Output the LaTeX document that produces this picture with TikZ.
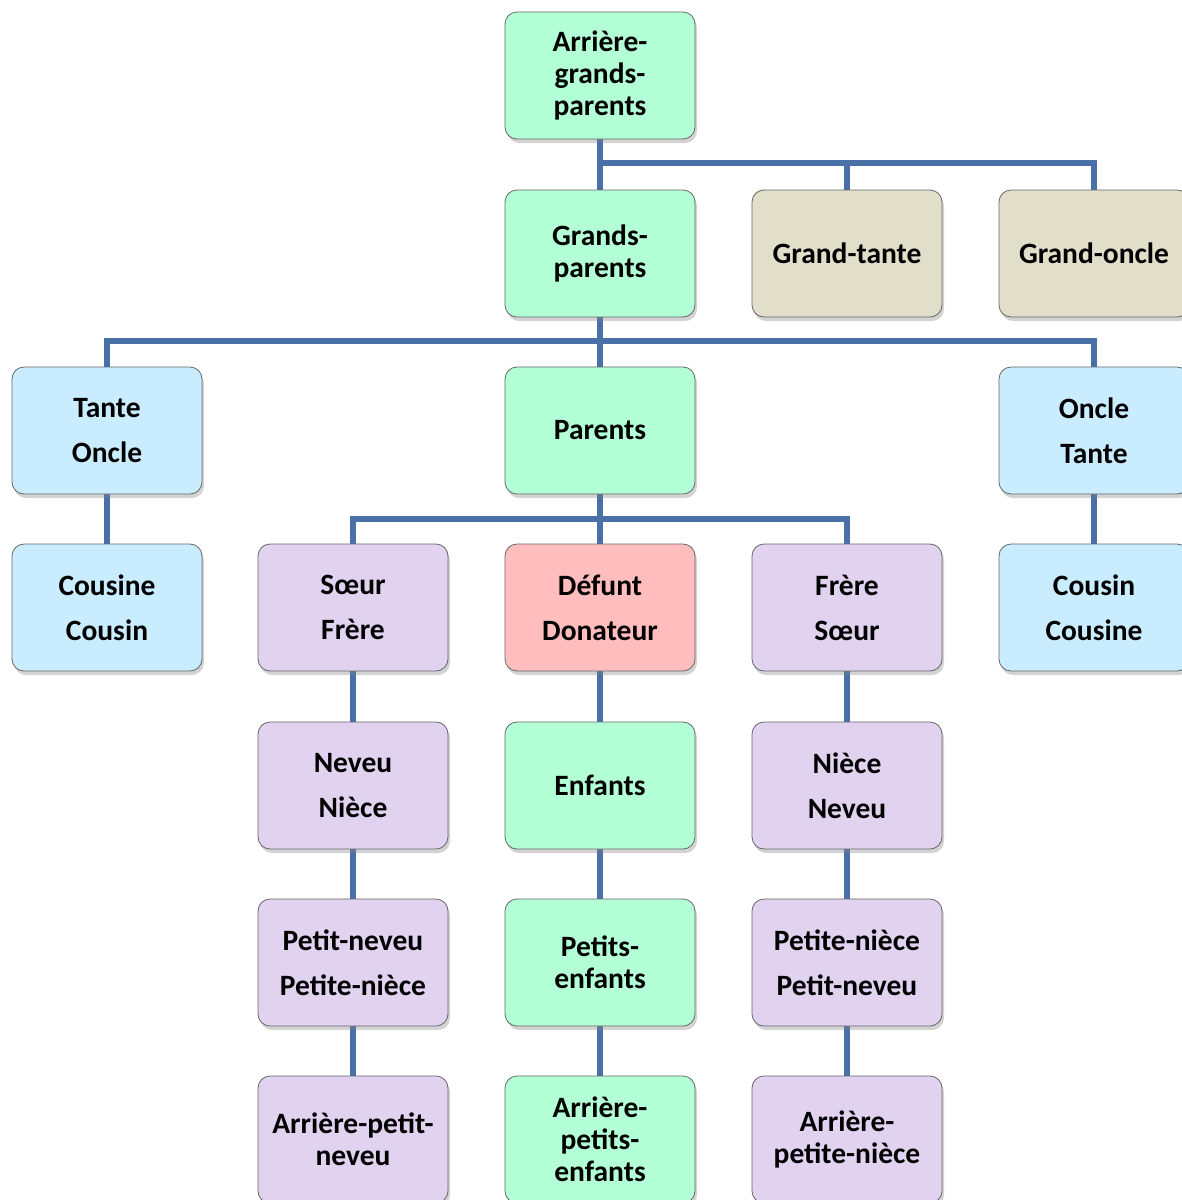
\documentclass[tikz,border=0pt]{standalone}
\usepackage{fontspec}
\setmainfont{Carlito}
\usetikzlibrary{shadows,backgrounds}
\definecolor{cgreen}{HTML}{B3FFD6}
\definecolor{ctan}{HTML}{E1DECA}
\definecolor{cblue}{HTML}{C9EDFF}
\definecolor{cpurple}{HTML}{E1D2F0}
\definecolor{cpink}{HTML}{FFBDBD}
\definecolor{cline}{HTML}{4A70A8}
\begin{document}
\begin{tikzpicture}[x=1pt,y=-1pt,
  box/.style={draw=black!60, line width=0.8pt, rounded corners=12pt,
    minimum width=190pt, minimum height=127pt, inner sep=0pt, align=center,
    font=\bfseries\fontsize{29.5}{32}\selectfont,
    drop shadow={shadow xshift=2pt, shadow yshift=-4pt, opacity=0.35}},
  green/.style={box, fill=cgreen},
  tan/.style={box, fill=ctan},
  blue/.style={box, fill=cblue},
  purple/.style={box, fill=cpurple},
  pink/.style={box, fill=cpink},
  conn/.style={draw=cline, line width=6pt}]
\path[use as bounding box] (0,0) rectangle (1182,1200);
\clip (0,0) rectangle (1182,1200);
% row 0
\node[green] (agp) at (600,75.5) {Arrière-\\grands-\\parents};
% row 1
\node[green] (gp) at (600,253.5) {Grands-\\parents};
\node[tan] (gt) at (847,253.5) {Grand-tante};
\node[tan] (go) at (1094,253.5) {Grand-oncle};
% row 2
\node[blue] (to) at (107,430.5) {Tante\\[13pt]Oncle};
\node[green] (par) at (600,430.5) {Parents};
\node[blue] (ot) at (1094,430.5) {Oncle\\[13pt]Tante};
% row 3
\node[blue] (cc) at (107,607.5) {Cousine\\[13pt]Cousin};
\node[purple] (sf) at (353,607.5) {Sœur\\[13pt]Frère};
\node[pink] (def) at (600,607.5) {Défunt\\[13pt]Donateur};
\node[purple] (fs) at (847,607.5) {Frère\\[13pt]Sœur};
\node[blue] (ccr) at (1094,607.5) {Cousin\\[13pt]Cousine};
% row 4
\node[purple] (nn) at (353,785.5) {Neveu\\[13pt]Nièce};
\node[green] (enf) at (600,785.5) {Enfants};
\node[purple] (nnr) at (847,785.5) {Nièce\\[13pt]Neveu};
% row 5
\node[purple] (pn) at (353,962.5) {Petit-neveu\\[13pt]Petite-nièce};
\node[green] (pe) at (600,962.5) {Petits-\\enfants};
\node[purple] (pnr) at (847,962.5) {Petite-nièce\\[13pt]Petit-neveu};
% row 6
\node[purple] (apn) at (353,1139.5) {Arrière-petit-\\neveu};
\node[green] (ape) at (600,1139.5) {Arrière-\\petits-\\enfants};
\node[purple] (apnr) at (847,1139.5) {Arrière-\\petite-nièce};
\coordinate (bar1) at (600,163);
\coordinate (bar2) at (600,341);
\coordinate (bar3) at (600,519);
\begin{scope}[on background layer]
\draw[conn] (agp.south) -- (gp.north);
\draw[conn] (bar1) -| (gt.north);
\draw[conn] (bar1) -| (go.north);
\draw[conn] (gp.south) -- (par.north);
\draw[conn] (to.north) |- (bar2) -| (ot.north);
\draw[conn] (par.south) -- (def.north);
\draw[conn] (sf.north) |- (bar3) -| (fs.north);
\draw[conn] (to.south) -- (cc.north);
\draw[conn] (ot.south) -- (ccr.north);
\draw[conn] (sf.south) -- (nn.north);
\draw[conn] (nn.south) -- (pn.north);
\draw[conn] (pn.south) -- (apn.north);
\draw[conn] (def.south) -- (enf.north);
\draw[conn] (enf.south) -- (pe.north);
\draw[conn] (pe.south) -- (ape.north);
\draw[conn] (fs.south) -- (nnr.north);
\draw[conn] (nnr.south) -- (pnr.north);
\draw[conn] (pnr.south) -- (apnr.north);
\end{scope}
\end{tikzpicture}
\end{document}
